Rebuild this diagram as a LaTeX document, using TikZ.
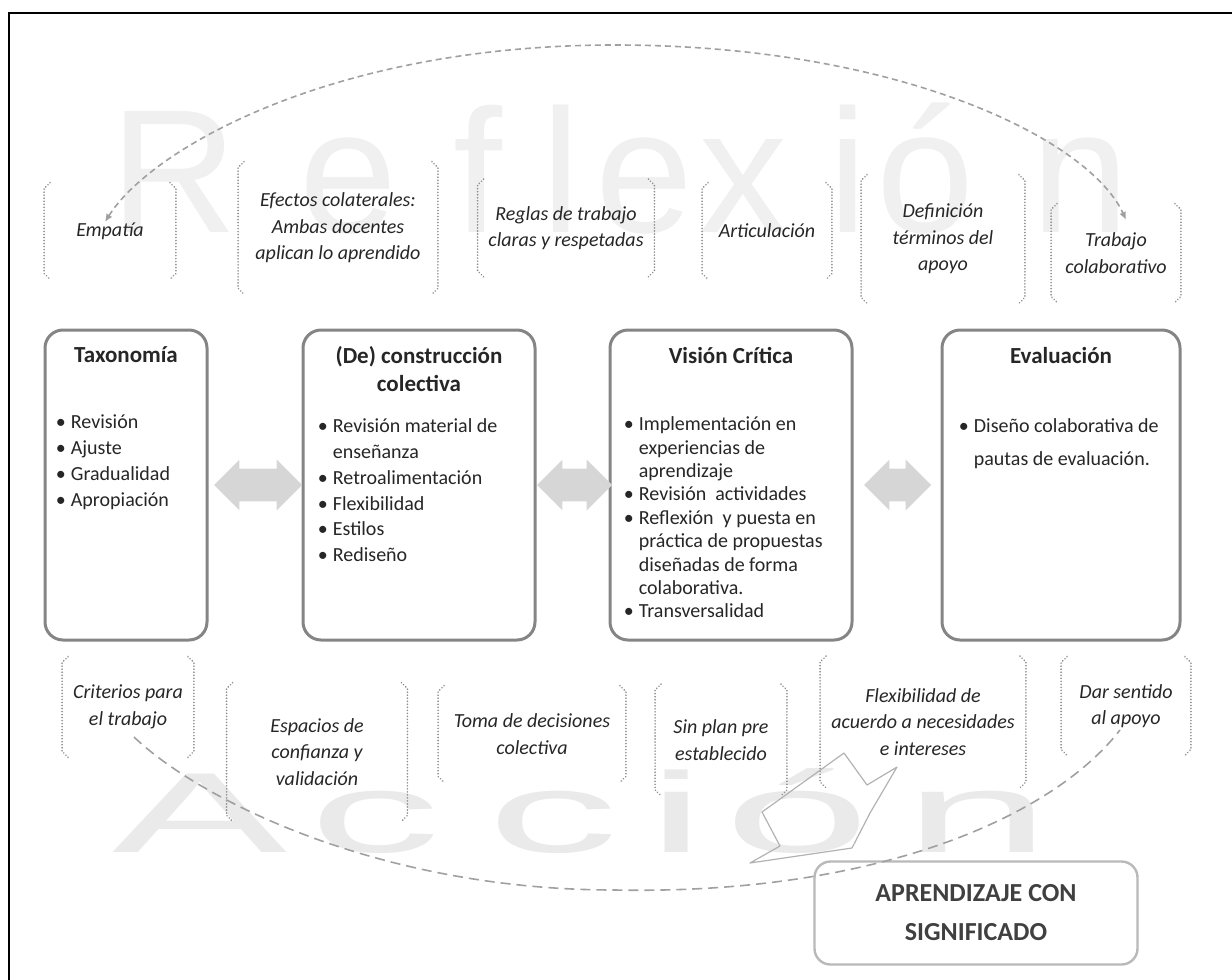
\documentclass[tikz,border=0pt]{standalone}
\usepackage{fontspec}
\usepackage{graphicx}
\setmainfont{Carlito}
\newfontfamily\markfont{Liberation Sans}
\usetikzlibrary{positioning, arrows.meta, shapes.arrows}

\definecolor{boxline}{HTML}{858585}
\definecolor{markgray}{HTML}{F0F0F0}
\definecolor{markgraywide}{HTML}{EAEAEA}
\definecolor{dashgray}{HTML}{A0A0A0}
\definecolor{dotgray}{HTML}{8E8E8E}
\definecolor{arrowgray}{HTML}{D6D6D6}
\definecolor{txt}{HTML}{262626}

\newcommand{\bul}{\makebox[7.5pt][l]{\textbullet}}
\newcommand{\cnt}{\makebox[7.5pt]{}}
% dotted brackets on both sides of a label node
\newcommand{\brackets}[1]{%
  \draw[brk] ([shift={(3pt,2pt)}]#1.north west) -- ([yshift=-1pt]#1.north west) -- ([yshift=1pt]#1.south west) -- ([shift={(3pt,-2pt)}]#1.south west);
  \draw[brk] ([shift={(-3pt,2pt)}]#1.north east) -- ([yshift=-1pt]#1.north east) -- ([yshift=1pt]#1.south east) -- ([shift={(-3pt,-2pt)}]#1.south east);
}

\begin{document}
\begin{tikzpicture}[x=0.5pt, y=-0.5pt,
	mainbox/.style={rectangle, rounded corners=9pt, draw=boxline, line width=1.5pt, fill=white, minimum height=155pt},
	boxtitle/.style={font=\fontsize{11.5}{14}\selectfont\bfseries, text=txt, align=center, inner sep=0pt},
	boxlist/.style={font=\fontsize{10}{12.9}\selectfont, text=txt, align=left, inner sep=0pt},
	idea/.style={font=\fontsize{10}{13.3}\selectfont\itshape, text=txt, align=center, inner sep=0pt},
	dblarrow/.style={double arrow, fill=arrowgray, inner xsep=0pt, inner ysep=8pt, minimum width=0pt, double arrow head extend=4.5pt},
	wmark/.style={font=\markfont\fontsize{88}{90}\selectfont, text=markgray, anchor=base, inner sep=0pt},
	wmarkwide/.style={font=\markfont\fontsize{57}{60}\selectfont, text=markgraywide, anchor=base, inner sep=0pt},
	brk/.style={dotgray, line width=0.9pt, line cap=round, dash pattern=on 0.01pt off 1.5pt},
	reflexarc/.style={dashgray, line width=0.8pt, dash pattern=on 3pt off 2pt},
	accionarc/.style={dashgray, line width=0.8pt, dash pattern=on 5pt off 3pt},
	result/.style={rectangle, rounded corners=8pt, draw=gray!55, line width=1.2pt, fill=white, minimum width=161.5pt, minimum height=51.5pt, align=center, font=\fontsize{13}{19.5}\selectfont\bfseries, text=black!75},
	>={LaTeX[length=4pt, width=3.5pt]}
]
\useasboundingbox (0,0) rectangle (1232,980);

% watermark words
\node[wmark] (wR) at (174,232) {R};
\node[wmark] (we1) at (348,232) {e};
\node[wmark] (wf) at (478,232) {f};
\node[wmark] (wl) at (561,232) {l};
\node[wmark] (we2) at (644,232) {e};
\node[wmark] (wx) at (743,232) {x};
\node[wmark] (wi) at (848,232) {i};
\node[wmark] (wo) at (925,232) {ó};
\node[wmark] (wn) at (1080,232) {n};

\node[wmarkwide] (aA) at (200,852) {\scalebox{2.3}[1]{A}};
\node[wmarkwide] (ac1) at (375,852) {\scalebox{2.3}[1]{c}};
\node[wmarkwide] (ac2) at (553,852) {\scalebox{2.3}[1]{c}};
\node[wmarkwide] (ai) at (677,852) {\scalebox{2.3}[1]{i}};
\node[wmarkwide] (ao) at (797,852) {\scalebox{2.3}[1]{ó}};
\node[wmarkwide] (an) at (977,852) {\scalebox{2.3}[1]{n}};

% frame
\draw[line width=1.2pt] (9,980) -- (9,13) -- (1232,13);

% upper labels
\node[idea, minimum width=65.5pt, minimum height=44pt] (empatia) at (110,231) {Empatía};
\node[idea, minimum width=99.5pt, minimum height=62pt] (efectos) at (338,228) {Efectos colaterales:\\Ambas docentes\\aplican lo aprendido};
\node[idea, minimum width=88pt, minimum height=44.5pt] (reglas) at (566,228) {Reglas de trabajo\\claras y respetadas};
\node[idea, minimum width=64.5pt, minimum height=44pt] (articulacion) at (767,231) {Articulación};
\node[idea, minimum width=81.5pt, minimum height=60pt] (definicion) at (943,239) {Definición\\términos del\\apoyo};
\node[idea, minimum width=64.5pt, minimum height=45pt] (trabajo) at (1116,253) {Trabajo\\colaborativo};

% lower labels
\node[idea, minimum width=65.5pt, minimum height=46pt] (criterios) at (128,707) {Criterios para\\el trabajo};
\node[idea, minimum width=90pt, minimum height=65pt] (espacios) at (317,752) {Espacios de\\confianza y\\validación};
\node[idea, minimum width=93.5pt, minimum height=44pt] (toma) at (532,734) {Toma de decisiones\\colectiva};
\node[idea, minimum width=65.5pt, minimum height=51.5pt] (sinplan) at (721,740) {Sin plan pre\\establecido};
\node[idea, minimum width=102.5pt, minimum height=61.5pt] (flexibilidad) at (923,722) {Flexibilidad de\\acuerdo a necesidades\\e intereses};
\node[idea, minimum width=64.5pt, minimum height=45pt] (darsentido) at (1126,706) {Dar sentido\\al apoyo};

\brackets{empatia}
\brackets{efectos}
\brackets{reglas}
\brackets{articulacion}
\brackets{definicion}
\brackets{trabajo}
\brackets{criterios}
\brackets{espacios}
\brackets{toma}
\brackets{sinplan}
\brackets{flexibilidad}
\brackets{darsentido}

% main boxes
\node[mainbox, minimum width=81pt] (taxonomia) at (126,485) {};
\node[mainbox, minimum width=116pt] (construccion) at (419,485) {};
\node[mainbox, minimum width=121pt] (vision) at (731,485) {};
\node[mainbox, minimum width=119pt] (evaluacion) at (1061,485) {};

\node[boxtitle, below=9pt of taxonomia.north] (taxonomiatitle) {Taxonomía};
\node[boxtitle, below=9pt of construccion.north] (construcciontitle) {(De) construcción\\colectiva};
\node[boxtitle, below=9pt of vision.north] (visiontitle) {Visión Crítica};
\node[boxtitle, below=9pt of evaluacion.north] (evaluaciontitle) {Evaluación};

\node[boxlist, below right=43pt and 6pt of taxonomia.north west] (taxonomialist) {\bul Revisión\\\bul Ajuste\\\bul Gradualidad\\\bul Apropiación};
\node[boxlist, below right=45pt and 8pt of construccion.north west] (construccionlist) {\bul Revisión material de\\\cnt enseñanza\\\bul Retroalimentación\\\bul Flexibilidad\\\bul Estilos\\\bul Rediseño};
\node[boxlist, font=\fontsize{10}{11.7}\selectfont, below right=44pt and 7.5pt of vision.north west] (visionlist) {\bul Implementación en\\\cnt experiencias de\\\cnt aprendizaje\\\bul Revisión~ actividades\\\bul Reflexión~ y puesta en\\\cnt práctica de propuestas\\\cnt diseñadas de forma\\\cnt colaborativa.\\\bul Transversalidad};
\node[boxlist, font=\fontsize{10}{16.5}\selectfont, below right=45pt and 9pt of evaluacion.north west] (evaluacionlist) {\bul Diseño colaborativa de\\\cnt pautas de evaluación.};

% arrows between boxes
\node[dblarrow, minimum height=44pt, right=2.5pt of taxonomia] (taxtocon) {};
\node[dblarrow, minimum height=37.5pt, right=0pt of construccion] (contovis) {};
\node[dblarrow, minimum height=33.5pt, right=5pt of vision] (vistoeva) {};

% result
\node[result] (aprendizaje) at (976,913) {APRENDIZAJE CON\\SIGNIFICADO};
\draw[gray!60, line width=0.6pt, line join=round] (844,753) -- (867,785) -- (897,767) -- (870,813) -- (852,848) -- (750,863) -- (780,846) -- (762,812) -- cycle;

% cycles
\coordinate (reflexpeak) at (615,45);
\coordinate (accionlow) at (615,890);
\draw[reflexarc, <->] ([xshift=-2.5pt,yshift=4.5pt]empatia.center) .. controls (150,150) and (330,45) .. (reflexpeak) .. controls (900,45) and (1090,140) .. ([xshift=5pt,yshift=16.5pt]trabajo.center);
\draw[accionarc] ([xshift=3pt,yshift=-15pt]criterios.center) .. controls (200,800) and (380,890) .. (accionlow) .. controls (870,895) and (1050,820) .. ([xshift=-3pt,yshift=-12pt]darsentido.center);

\end{tikzpicture}
\end{document}
